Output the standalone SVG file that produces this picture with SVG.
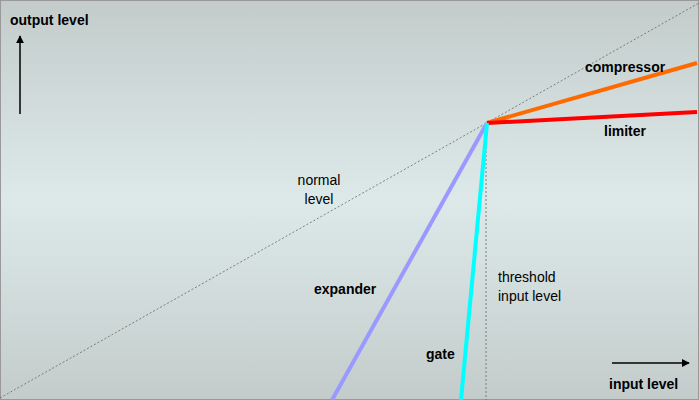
<svg xmlns="http://www.w3.org/2000/svg" width="699" height="400" viewBox="0 0 699 400">
<defs>
<linearGradient id="bg" x1="0" y1="0" x2="0" y2="1">
<stop offset="0" stop-color="#c3cccb"/>
<stop offset="0.5" stop-color="#dde9e9"/>
<stop offset="1" stop-color="#c3cccb"/>
</linearGradient>
<marker id="ah" viewBox="0 0 10 10" refX="9" refY="5" markerWidth="8" markerHeight="8" markerUnits="userSpaceOnUse" orient="auto"><path d="M0,0L10,5L0,10z" fill="#000"/></marker>
</defs>
<style>
text{font-family:"Liberation Sans",Arial,sans-serif;font-size:14px;fill:#000}
.b{font-weight:bold}
</style>
<rect x="0.5" y="0.5" width="698" height="399" fill="url(#bg)" stroke="#999"/>
<g id="connectors">
<line x1="0" y1="398" x2="699" y2="3" stroke="#666" stroke-width="0.8" stroke-dasharray="2,2"/>
<line x1="486" y1="123" x2="486" y2="400" stroke="#666" stroke-width="0.8" stroke-dasharray="2,2"/>
<line x1="487" y1="123" x2="697" y2="63" stroke="#ff6a00" stroke-width="4"/>
<line x1="487" y1="123" x2="697" y2="112" stroke="#ff0000" stroke-width="4"/>
<line x1="487" y1="123" x2="332" y2="400" stroke="#9999ff" stroke-width="4"/>
<line x1="487" y1="123" x2="461" y2="400" stroke="#00ffff" stroke-width="4"/>
<line x1="20" y1="114" x2="20" y2="36" stroke="#000" stroke-width="1.5" marker-end="url(#ah)"/>
<line x1="612" y1="363" x2="689" y2="363" stroke="#000" stroke-width="1.5" marker-end="url(#ah)"/>
</g>
<g id="labels">
<text class="b" x="10" y="25">output level</text>
<text class="b" x="585" y="72">compressor</text>
<text class="b" x="604" y="136">limiter</text>
<text x="319" y="185" text-anchor="middle">normal</text>
<text x="319" y="204" text-anchor="middle">level</text>
<text class="b" x="314" y="294">expander</text>
<text x="498" y="282">threshold</text>
<text x="498" y="301">input level</text>
<text class="b" x="426" y="359">gate</text>
<text class="b" x="609" y="389">input level</text>
</g>
</svg>
